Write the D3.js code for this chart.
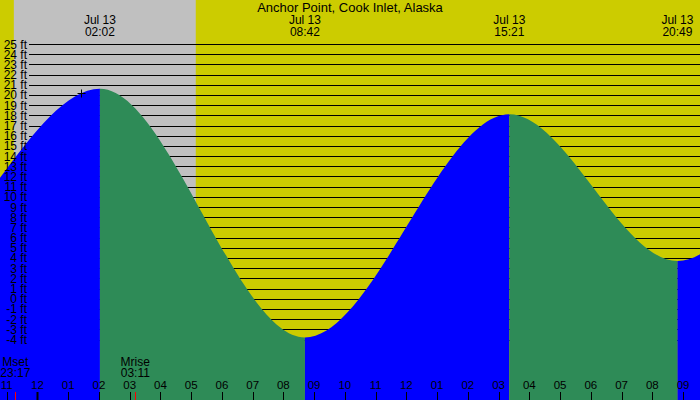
<!DOCTYPE html>
<html>
<head>
<meta charset="utf-8">
<script src="https://cdn.jsdelivr.net/npm/d3@7"></script>
<style>
  body { margin: 0; }
  svg { display: block; }
  text { font-family: "Liberation Sans", Arial, sans-serif; fill: #000; }
</style>
</head>
<body>
<svg id="chart" width="700" height="400"></svg>
<script>
const title = 'Anchor Point, Cook Inlet, Alaska';

// window shown on the chart
const viewStart = '2024-07-12 22:47';
const viewEnd = '2024-07-13 21:33';

// high / low tides; the first two and last two are off-screen and only keep the curve shape at the edges
const tideTimes = ['2024-07-12 13:50', '2024-07-12 19:30', '2024-07-13 02:02', '2024-07-13 08:42',
  '2024-07-13 15:21', '2024-07-13 20:49', '2024-07-14 02:50', '2024-07-14 09:20'];
const tideHeights = [17.5, 3.0, 20.6, -3.8, 18.1, 3.7, 20.0, -3.0];

// night (sunset -> sunrise)
const sunset = '2024-07-12 23:14';
const sunrise = '2024-07-13 05:09';

// moon
const moonNames = ['Mset', 'Mrise'];
const moonTimes = ['2024-07-12 23:17', '2024-07-13 03:11'];

// "+" marker
const markTime = '2024-07-13 01:26';
const markHeight = 20.2;

const feetTicks = d3.range(-4, 26);

const W = 700, H = 400;
const parse = d3.timeParse('%Y-%m-%d %H:%M');
const svg = d3.select('#chart');

const x = d3.scaleTime().domain([parse(viewStart), parse(viewEnd)]).range([0, W]);
const y = d3.scaleLinear().domain([-4, 25]).range([339.5, 44]);

const tides = tideTimes.map((t, i) => ({ t: parse(t), h: tideHeights[i] }));

// background: day yellow, night grey
svg.append('rect').attr('width', W).attr('height', H).attr('fill', '#cccc00');
svg.append('rect')
  .attr('x', x(parse(sunset))).attr('y', 0)
  .attr('width', x(parse(sunrise)) - x(parse(sunset))).attr('height', H)
  .attr('fill', '#c0c0c0');

// grid lines
svg.append('g').selectAll('line').data(feetTicks).enter().append('line')
  .attr('x1', 29).attr('x2', W)
  .attr('y1', d => Math.round(y(d)) + 0.5).attr('y2', d => Math.round(y(d)) + 0.5)
  .attr('stroke', '#000').attr('stroke-width', 1);

// tide area, blue while rising, green while falling
const area = d3.area()
  .x(d => x(d.t)).y0(H).y1(d => y(d.h))
  .curve(d3.curveMonotoneX);

svg.append('clipPath').attr('id', 'tideClip')
  .append('path').attr('d', area(tides));

const segments = d3.pairs(tides);
svg.append('g').attr('clip-path', 'url(#tideClip)')
  .selectAll('rect').data(segments).enter().append('rect')
  .attr('x', d => x(d[0].t)).attr('y', 0)
  .attr('width', d => x(d[1].t) - x(d[0].t)).attr('height', H)
  .attr('fill', d => d[1].h > d[0].h ? '#0000ff' : '#2e8b57');

// marker
const mx = Math.round(x(parse(markTime))) + 0.5, my = Math.round(y(markHeight)) + 0.5;
svg.append('path')
  .attr('d', `M${mx - 4},${my}H${mx + 4}M${mx},${my - 4}V${my + 4}`)
  .attr('stroke', '#000').attr('stroke-width', 1);

// feet labels
svg.append('g').selectAll('text').data(feetTicks).enter().append('text')
  .attr('x', 27).attr('y', d => y(d) + 4.5)
  .attr('text-anchor', 'end').attr('font-size', 12)
  .text(d => d + ' ft');

// hour ticks and labels
const hours = d3.timeHour.range(d3.timeHour.ceil(x.domain()[0]), x.domain()[1]);
const hourG = svg.append('g');
hourG.selectAll('line').data(hours).enter().append('line')
  .attr('x1', d => Math.round(x(d)) + 0.5).attr('x2', d => Math.round(x(d)) + 0.5)
  .attr('y1', 392).attr('y2', H)
  .attr('stroke', '#000')
  .attr('stroke-width', d => d.getHours() === 0 ? 2 : 1);
hourG.selectAll('text').data(hours).enter().append('text')
  .attr('x', d => x(d)).attr('y', 389)
  .attr('text-anchor', 'middle').attr('font-size', 11.5)
  .text(d3.timeFormat('%I'));

// moon events
const moon = moonTimes.map((t, i) => ({ t: parse(t), name: moonNames[i] }));
const moonG = svg.append('g');
moonG.selectAll('line').data(moon).enter().append('line')
  .attr('x1', d => Math.round(x(d.t)) + 0.5).attr('x2', d => Math.round(x(d.t)) + 0.5)
  .attr('y1', 392).attr('y2', H)
  .attr('stroke', '#ff0000');
moonG.selectAll('text.name').data(moon).enter().append('text').attr('class', 'name')
  .attr('x', d => x(d.t)).attr('y', 366)
  .attr('text-anchor', 'middle').attr('font-size', 12)
  .text(d => d.name);
moonG.selectAll('text.time').data(moon).enter().append('text').attr('class', 'time')
  .attr('x', d => x(d.t)).attr('y', 377)
  .attr('text-anchor', 'middle').attr('font-size', 12)
  .text(d => d3.timeFormat('%H:%M')(d.t));

// title
svg.append('text')
  .attr('x', W / 2).attr('y', 11.5)
  .attr('text-anchor', 'middle').attr('font-size', 13)
  .text(title);

// tide time labels for extremes in view
const shown = tides.filter(d => d.t >= x.domain()[0] && d.t <= x.domain()[1]);
const tideG = svg.append('g');
tideG.selectAll('text.day').data(shown).enter().append('text').attr('class', 'day')
  .attr('x', d => x(d.t)).attr('y', 24)
  .attr('text-anchor', 'middle').attr('font-size', 12)
  .text(d => d3.timeFormat('%b %d')(d.t));
tideG.selectAll('text.hm').data(shown).enter().append('text').attr('class', 'hm')
  .attr('x', d => x(d.t)).attr('y', 36)
  .attr('text-anchor', 'middle').attr('font-size', 12)
  .text(d => d3.timeFormat('%H:%M')(d.t));
</script>
</body>
</html>
